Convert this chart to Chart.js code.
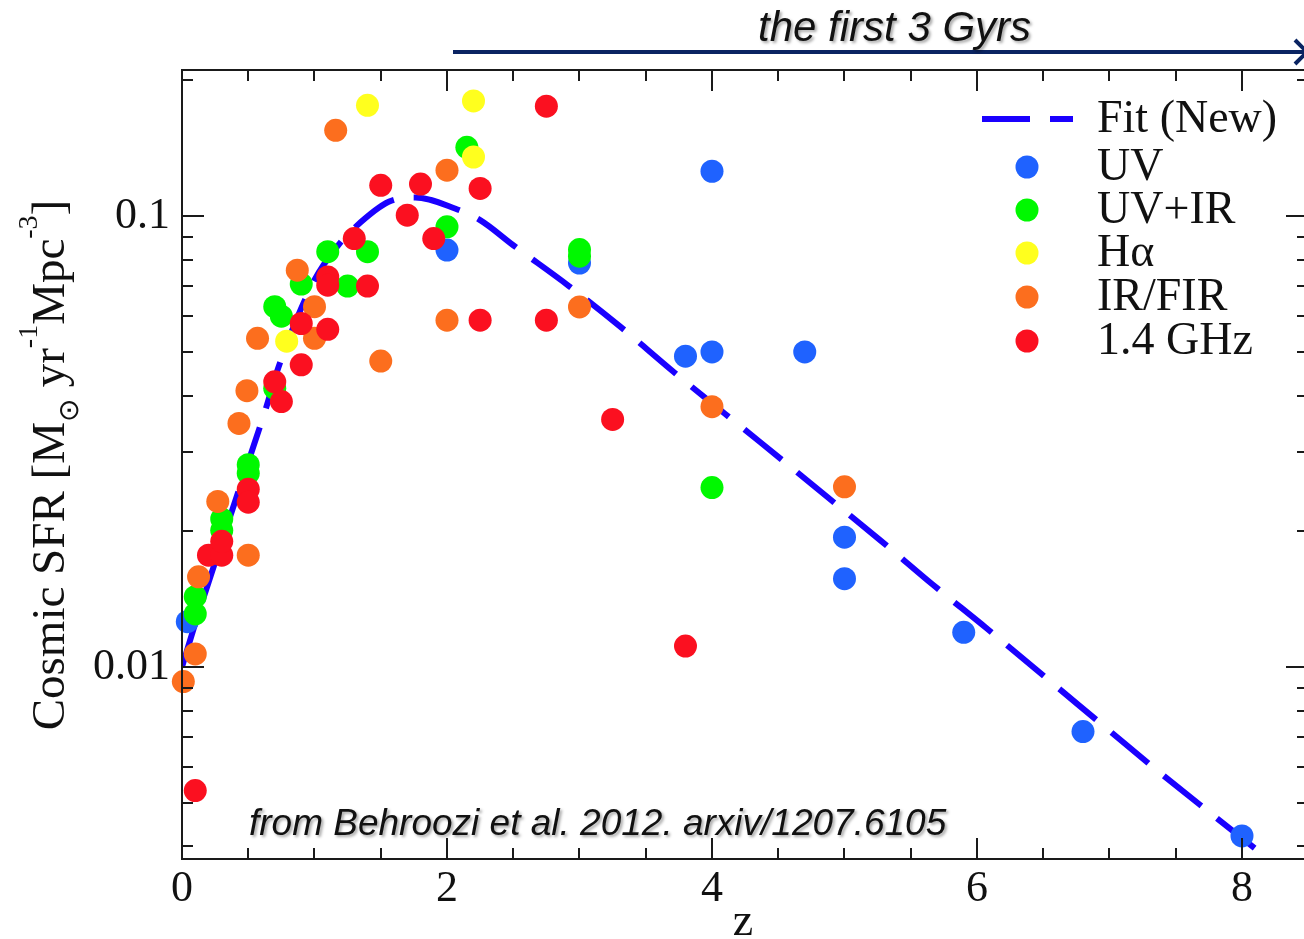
<!DOCTYPE html>
<html>
<head>
<meta charset="utf-8">
<title>Cosmic SFR</title>
<script src="https://cdn.jsdelivr.net/npm/chart.js@4.4.1/dist/chart.umd.min.js"></script>
<style>
  html, body { margin: 0; padding: 0; background: #fff; overflow: hidden; }
  #sfrChart { display: block; }
</style>
</head>
<body>
<canvas id="sfrChart" width="1304" height="939"></canvas>
<script>
// fitted cosmic star formation history
var fitZ   = [0, 0.1, 0.2, 0.35, 0.5, 0.63, 0.73, 1.0, 1.18, 1.31, 1.56, 1.76, 2.06, 2.25, 2.5, 2.92, 3.31, 3.7, 4.1, 4.36, 4.88, 5.28, 5.67, 6.07, 6.59, 6.98, 7.37, 7.77, 8.19];
var fitSfr = [0.0100, 0.0125, 0.0154, 0.0210, 0.0285, 0.0372, 0.0464, 0.0722, 0.0863, 0.0947, 0.1076, 0.110, 0.104, 0.098, 0.0862, 0.0700, 0.0568, 0.0454, 0.0364, 0.0316, 0.0237, 0.0190, 0.0152, 0.0122, 0.0091, 0.0073, 0.00586, 0.00472, 0.00377];

// observations, one pair of arrays per tracer
var uvZ   = [0.04, 2.0, 3.0, 3.8, 4.0, 4.0, 4.7, 5.0, 5.0, 5.9, 6.8, 8.0];
var uvSfr = [0.0126, 0.0841, 0.0787, 0.0489, 0.0500, 0.1258, 0.0500, 0.0194, 0.0157, 0.01194, 0.00719, 0.00422];

var uvirZ   = [0.1, 0.1, 0.3, 0.3, 0.5, 0.5, 0.7, 0.75, 0.7, 0.9, 1.1, 1.25, 1.4, 2.0, 2.15, 3.0, 3.0, 4.0];
var uvirSfr = [0.01432, 0.01311, 0.0213, 0.0201, 0.0281, 0.0269, 0.0630, 0.0600, 0.0415, 0.0707, 0.0834, 0.0700, 0.0834, 0.0947, 0.1422, 0.0843, 0.0815, 0.0250];

var haZ   = [0.79, 1.4, 2.2, 2.2];
var haSfr = [0.0528, 0.1762, 0.1802, 0.1353];

var irZ   = [0.01, 0.1, 0.125, 0.27, 0.43, 0.49, 0.5, 0.57, 0.87, 1.0, 1.0, 1.16, 1.5, 2.0, 2.0, 3.0, 4.0, 5.0];
var irSfr = [0.00928, 0.01069, 0.01585, 0.0233, 0.0347, 0.0410, 0.0177, 0.0536, 0.0759, 0.0630, 0.0536, 0.1551, 0.0477, 0.1265, 0.0588, 0.0629, 0.0378, 0.0251];

var radioZ   = [0.1, 0.2, 0.3, 0.3, 0.5, 0.5, 0.7, 0.75, 0.9, 0.9, 1.1, 1.1, 1.1, 1.3, 1.4, 1.5, 1.7, 1.8, 1.9, 2.25, 2.25, 2.75, 2.75, 3.25, 3.8];
var radioSfr = [0.00532, 0.0177, 0.0177, 0.0190, 0.0248, 0.0232, 0.0429, 0.0388, 0.0578, 0.0468, 0.0733, 0.0703, 0.0561, 0.0892, 0.0700, 0.1171, 0.1005, 0.1178, 0.0892, 0.1152, 0.0588, 0.0588, 0.1754, 0.0354, 0.01113];

// axis ticks
var zLabels = [0, 2, 4, 6, 8];
var zTicks = [0.5, 1, 1.5, 2, 2.5, 3, 3.5, 4, 4.5, 5, 5.5, 6, 6.5, 7, 7.5, 8];
var sfrLabels = [0.01, 0.1];
var sfrTicks = [0.004, 0.005, 0.006, 0.007, 0.008, 0.009, 0.01, 0.02, 0.03, 0.04, 0.05, 0.06, 0.07, 0.08, 0.09, 0.1, 0.2];

var SERIF = '"Liberation Serif", "Times New Roman", serif';
var SANS = '"Liberation Sans", Arial, sans-serif';

function pairs(xs, ys) {
    return xs.map(function (x, i) { return { x: x, y: ys[i] }; });
}

function dots(label, xs, ys, color, order) {
    return {
        label: label,
        data: pairs(xs, ys),
        backgroundColor: color,
        borderWidth: 0,
        pointRadius: 11.5,
        pointHoverRadius: 11.5,
        clip: false,
        order: order
    };
}

var datasets = [
    {
        label: 'Fit (New)',
        data: pairs(fitZ, fitSfr),
        showLine: true,
        borderColor: '#1a00ff',
        borderWidth: 6,
        borderDash: [48, 20],
        pointRadius: 0,
        cubicInterpolationMode: 'monotone',
        order: 6
    },
    dots('UV', uvZ, uvSfr, '#1f62ff', 5),
    dots('UV+IR', uvirZ, uvirSfr, '#00f800', 4),
    dots('H\u03b1', haZ, haSfr, '#ffff1e', 3),
    dots('IR/FIR', irZ, irSfr, '#fc6e1e', 2),
    dots('1.4 GHz', radioZ, radioSfr, '#fb1020', 1)
];

// frame with inward ticks; the right-hand border sits just past the canvas edge
var frame = {
    id: 'frame',
    afterDatasetsDraw: function (chart) {
        var ctx = chart.ctx, a = chart.chartArea;
        var xs = chart.scales.x, ys = chart.scales.y;
        var rightEdge = a.right + 4;
        ctx.save();
        ctx.strokeStyle = '#1a1a1a';
        ctx.lineWidth = 2;
        ctx.beginPath();
        ctx.moveTo(rightEdge, a.top); ctx.lineTo(a.left, a.top);
        ctx.lineTo(a.left, a.bottom); ctx.lineTo(rightEdge, a.bottom);
        zTicks.forEach(function (z) {
            var x = Math.round(xs.getPixelForValue(z));
            var len = zLabels.indexOf(z) >= 0 ? 21 : 11;
            ctx.moveTo(x, a.bottom); ctx.lineTo(x, a.bottom - len);
            ctx.moveTo(x, a.top); ctx.lineTo(x, a.top + len);
        });
        sfrTicks.forEach(function (v) {
            var y = Math.round(ys.getPixelForValue(v));
            var len = sfrLabels.indexOf(v) >= 0 ? 22 : 11;
            ctx.moveTo(a.left, y); ctx.lineTo(a.left + len, y);
            ctx.moveTo(rightEdge, y); ctx.lineTo(rightEdge - len, y);
        });
        ctx.stroke();
        ctx.restore();
    }
};

// legend, axis title, notes
var notes = {
    id: 'notes',
    afterDraw: function (chart) {
        var ctx = chart.ctx;
        ctx.save();

        // legend
        var rows = [119, 167, 210, 253, 297, 341];
        ctx.font = '46px ' + SERIF;
        ctx.fillStyle = '#111';
        ctx.textBaseline = 'middle';
        ctx.textAlign = 'left';
        chart.data.datasets.forEach(function (ds, i) {
            var y = rows[i];
            if (ds.showLine) {
                ctx.save();
                ctx.strokeStyle = ds.borderColor;
                ctx.lineWidth = ds.borderWidth;
                ctx.setLineDash(ds.borderDash);
                ctx.beginPath();
                ctx.moveTo(982, y); ctx.lineTo(1073, y);
                ctx.stroke();
                ctx.restore();
            } else {
                ctx.fillStyle = ds.backgroundColor;
                ctx.beginPath();
                ctx.arc(1027, y, 11.5, 0, Math.PI * 2);
                ctx.fill();
            }
            ctx.fillStyle = '#111';
            ctx.fillText(ds.label, 1097, y + 1);
        });

        // y axis title with sub/superscripts
        var main = '47px ' + SERIF, small = '28px ' + SERIF;
        var parts = [
            ['Cosmic SFR [M', main, 0],
            ['\u2299', small, 14],
            [' yr', main, 0],
            ['-1', small, -27],
            ['Mpc', main, 0],
            ['-3', small, -27],
            [']', main, 0]
        ];
        var total = 0;
        parts.forEach(function (p) { ctx.font = p[1]; p.push(ctx.measureText(p[0]).width); total += p[3]; });
        ctx.translate(64, 465 + total / 2);
        ctx.rotate(-Math.PI / 2);
        ctx.textBaseline = 'alphabetic';
        var cx = 0;
        parts.forEach(function (p) {
            ctx.font = p[1];
            ctx.fillText(p[0], cx, p[2]);
            cx += p[3];
        });
        ctx.setTransform(1, 0, 0, 1, 0, 0);

        // time arrow
        ctx.strokeStyle = '#0a2462';
        ctx.lineWidth = 4;
        ctx.beginPath();
        ctx.moveTo(453, 52); ctx.lineTo(1306, 52);
        ctx.moveTo(1295, 40); ctx.lineTo(1307, 52); ctx.lineTo(1295, 64);
        ctx.stroke();

        // italic captions with a soft drop shadow
        ctx.shadowColor = 'rgba(0,0,0,0.35)';
        ctx.shadowBlur = 3;
        ctx.shadowOffsetX = 2;
        ctx.shadowOffsetY = 2;
        ctx.fillStyle = '#111';
        ctx.textBaseline = 'alphabetic';
        ctx.font = 'italic 42px ' + SANS;
        ctx.fillText('the first 3 Gyrs', 758, 41);
        ctx.font = 'italic 37px ' + SANS;
        ctx.fillText('from Behroozi et al. 2012. arxiv/1207.6105', 249, 835);
        ctx.restore();
    }
};

new Chart(document.getElementById('sfrChart'), {
    type: 'scatter',
    data: { datasets: datasets },
    options: {
        responsive: false,
        animation: false,
        // point radius would otherwise add auto padding on the right
        layout: { autoPadding: false, padding: { top: 70, right: 0, left: 0, bottom: 0 } },
        plugins: { legend: { display: false }, tooltip: { enabled: false } },
        scales: {
            x: {
                type: 'linear',
                min: 0,
                max: 8.468,
                grid: { display: false, drawTicks: false },
                border: { display: false },
                afterFit: function (s) {
                    s.height = 80;
                    s.paddingLeft = 0;
                    s.paddingRight = 0;
                },
                afterBuildTicks: function (s) { s.ticks = zLabels.map(function (v) { return { value: v }; }); },
                ticks: { font: { family: SERIF, size: 44 }, color: '#111', padding: 4, maxRotation: 0 },
                title: { display: true, text: 'z', color: '#111', font: { family: SERIF, size: 46, lineHeight: 0.7 }, padding: 0 }
            },
            y: {
                type: 'logarithmic',
                min: 0.00375,
                max: 0.211,
                grid: { display: false, drawTicks: false },
                border: { display: false },
                afterFit: function (s) { s.width = 182; },
                afterBuildTicks: function (s) { s.ticks = sfrLabels.map(function (v) { return { value: v }; }); },
                ticks: {
                    font: { family: SERIF, size: 44 },
                    color: '#111',
                    padding: 12,
                    callback: function (v) { return String(v); }
                }
            }
        }
    },
    plugins: [frame, notes]
});
</script>
</body>
</html>
